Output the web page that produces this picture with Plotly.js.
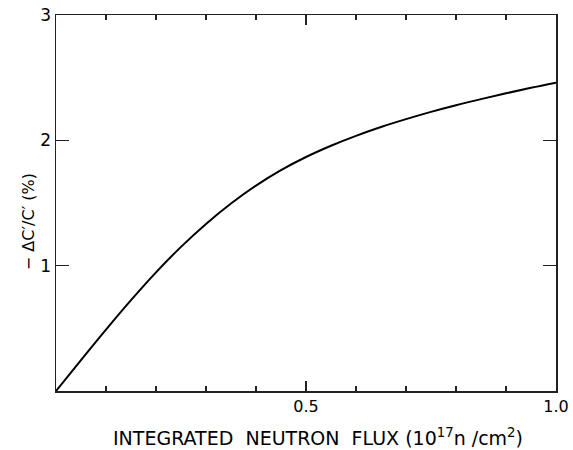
<!DOCTYPE html>
<html>
<head>
<meta charset="utf-8">
<script src="https://cdn.plot.ly/plotly-3.0.1.min.js"></script>
<style>html,body{margin:0;padding:0;background:#fff;}#chart{width:573px;height:450px;}</style>
</head>
<body>
<div id="chart"></div>
<script>
const flux = [0, 0.05, 0.1, 0.15, 0.2, 0.25, 0.3, 0.35, 0.4, 0.45, 0.5, 0.55, 0.6, 0.65, 0.7, 0.75, 0.8, 0.85, 0.9, 0.95, 1.0];
const deltaC = [0, 0.247, 0.49, 0.725, 0.947, 1.15, 1.333, 1.496, 1.639, 1.762, 1.867, 1.957, 2.036, 2.106, 2.169, 2.227, 2.28, 2.329, 2.375, 2.419, 2.46];
const xTickVals = [0.5, 1.0];
const xTickText = ['0.5', '1.0'];
const xMinorVals = [0.1, 0.2, 0.3, 0.4, 0.6, 0.7, 0.8, 0.9];
const yTickVals = [1, 2, 3];
const yTickText = ['1', '2', '3'];
const xTitle = 'INTEGRATED  NEUTRON  FLUX (10<sup>17</sup>n /cm<sup>2</sup>)';
const yTitle = '− ΔC′/C′ (%)';

const fam = 'DejaVu Sans, Liberation Sans, sans-serif';

Plotly.newPlot('chart', [{
  x: flux, y: deltaC, type: 'scatter', mode: 'lines',
  line: {color: '#000', width: 2, shape: 'spline', smoothing: 1},
  hoverinfo: 'skip'
}], {
  width: 573, height: 450,
  margin: {l: 56, r: 17, t: 15, b: 59},
  paper_bgcolor: '#fff', plot_bgcolor: '#fff',
  showlegend: false,
  font: {family: fam, color: '#000'},
  xaxis: {
    range: [0, 1.0], showgrid: false, zeroline: false,
    showline: true, linecolor: '#222', linewidth: 1.5, mirror: 'ticks',
    ticks: 'inside', ticklen: 10, tickwidth: 1.5, tickcolor: '#222',
    tickvals: xTickVals, ticktext: xTickText,
    tickfont: {size: 16, family: fam, color: '#000'},
    minor: {tickvals: xMinorVals, ticks: 'inside', ticklen: 5, tickwidth: 1.3, tickcolor: '#222'}
  },
  yaxis: {
    range: [0, 3], showgrid: false, zeroline: false,
    showline: true, linecolor: '#222', linewidth: 1.5, mirror: 'ticks',
    ticks: 'inside', ticklen: 13, tickwidth: 1.5, tickcolor: '#222',
    tickvals: yTickVals, ticktext: yTickText,
    tickfont: {size: 17, family: fam, color: '#000'}
  },
  annotations: [
    {text: xTitle, xref: 'paper', yref: 'paper', x: 0.524, y: -0.122,
     xanchor: 'center', yanchor: 'middle', showarrow: false,
     font: {size: 19, family: fam, color: '#000'}},
    {text: yTitle, xref: 'paper', yref: 'paper', x: -0.056, y: 0.449,
     xanchor: 'center', yanchor: 'middle', showarrow: false, textangle: -90,
     font: {size: 16, family: fam, color: '#000'}}
  ]
}, {displayModeBar: false, staticPlot: true});
</script>
</body>
</html>
